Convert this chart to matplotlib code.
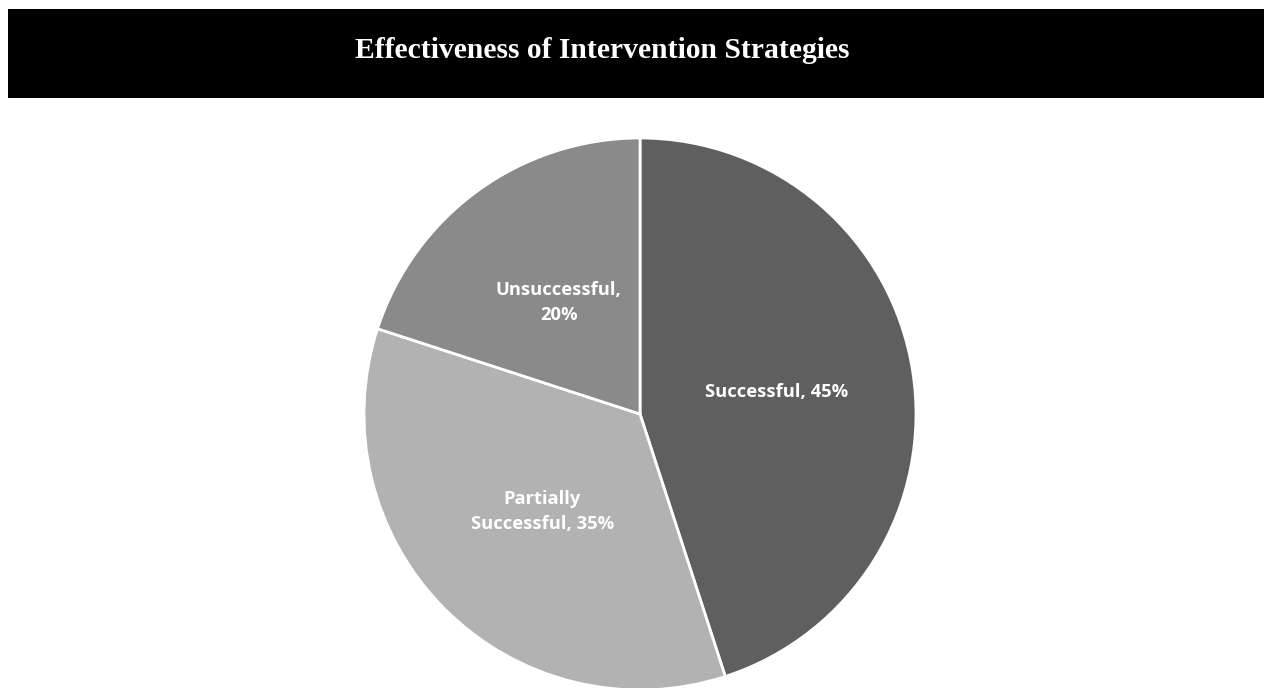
import matplotlib
matplotlib.use('Agg')
import matplotlib.pyplot as plt
from matplotlib.patches import Rectangle

# データ
categories = ['Successful', 'Partially Successful', 'Unsuccessful']
values = [45, 35, 20]
colors = ['#5f5f5f', '#b2b2b2', '#8a8a8a']
pie_labels = ['Successful, 45%', 'Partially\nSuccessful, 35%', 'Unsuccessful,\n20%']

W, H = 1264, 688
fig = plt.figure(figsize=(W / 100, H / 100), dpi=100)

# タイトルバー
fig.patches.append(Rectangle((8 / W, (H - 98) / H), (W - 8) / W, 89 / H,
                             transform=fig.transFigure, facecolor='black',
                             edgecolor='none'))
fig.text(602 / W, (H - 50) / H, 'Effectiveness of Intervention Strategies',
         ha='center', va='center', color='white', fontsize=21.3,
         fontweight='bold', family='Liberation Serif')

# 円グラフ
cx, cy, r = 640, 414, 276
ax = fig.add_axes([(cx - r) / W, (H - cy - r) / H, 2 * r / W, 2 * r / H])
wedges, texts = ax.pie(values, labels=pie_labels, colors=colors,
                       startangle=90, counterclock=False, labeldistance=0.5,
                       radius=1.0,
                       wedgeprops=dict(edgecolor='white', linewidth=2),
                       textprops=dict(color='white', fontsize=13.2,
                                      fontweight='bold', family='Open Sans',
                                      ha='center', va='center',
                                      multialignment='center',
                                      linespacing=1.45))
ax.set_xlim(-1, 1)
ax.set_ylim(-1, 1)
ax.set_aspect('equal')

fig.savefig('out.png', dpi=100)
